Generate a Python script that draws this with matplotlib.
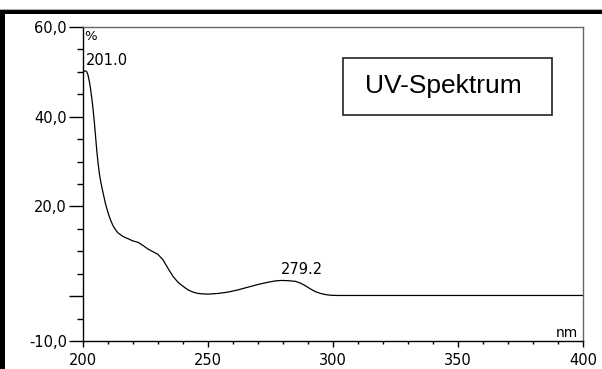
import numpy as np
import matplotlib
matplotlib.use("Agg")
import matplotlib.pyplot as plt
from matplotlib.ticker import MultipleLocator, FixedLocator, FixedFormatter
from matplotlib.patches import Rectangle

# ---- data ----
wavelength_nm = [200, 200.5, 201, 201.5, 202, 202.5, 203, 203.5, 204, 204.5,
                 205, 205.5, 206, 206.5, 207, 207.5, 208, 209, 210, 211,
                 212, 213, 214, 216, 218, 220, 222, 224, 226, 228,
                 230, 232, 234, 236, 238, 240, 242, 244, 246, 248,
                 250, 254, 258, 262, 266, 270, 274, 277, 279.2, 282,
                 285, 287, 289, 291, 293, 295, 297, 299, 302, 310,
                 330, 360, 400]
absorb_pct = [49.9, 50.2, 50.2, 50.0, 49.3, 48.0, 46.3, 44.2, 41.8, 39.0,
              35.8, 32.5, 29.8, 27.5, 25.8, 24.4, 23.1, 20.6, 18.6, 17.0,
              15.7, 14.8, 14.1, 13.3, 12.8, 12.3, 12.0, 11.3, 10.5, 9.9,
              9.3, 8.1, 6.2, 4.4, 3.1, 2.2, 1.4, 0.9, 0.6, 0.5,
              0.45, 0.6, 0.9, 1.4, 2.0, 2.6, 3.1, 3.4, 3.5, 3.45,
              3.3, 2.9, 2.3, 1.6, 1.0, 0.6, 0.35, 0.2, 0.15, 0.15,
              0.15, 0.15, 0.15]

peak_nm = [201.0, 279.2]
peak_label_y = [51.5, 4.9]

y_major = [-10, 0, 20, 40, 60]
y_major_labels = ["-10,0", "", "20,0", "40,0", "60,0"]
x_major = [200, 250, 300, 350, 400]
x_major_labels = ["200", "250", "300", "350", "400"]
title_text = "UV-Spektrum"
y_unit = "%"
x_unit = "nm"

# ---- figure ----
W, H = 602, 369
fig = plt.figure(figsize=(W / 100, H / 100), dpi=100)
fig.patch.set_facecolor("white")

# outer black frame (top and left)
fig.add_artist(Rectangle((0, 1 - 14 / H), 1, 5 / H, transform=fig.transFigure,
                         facecolor="black", edgecolor="none"))
fig.add_artist(Rectangle((0, 0), 5 / W, 1 - 9 / H, transform=fig.transFigure,
                         facecolor="black", edgecolor="none"))
fig.add_artist(plt.Line2D([0, 1], [1 - 8.5 / H, 1 - 8.5 / H], transform=fig.transFigure,
                          color="#b0b0b0", lw=0.8))

L, R, T, B = 83, 583, 27, 341
ax = fig.add_axes([L / W, (H - B) / H, (R - L) / W, (B - T) / H])
ax.plot(wavelength_nm, absorb_pct, color="black", lw=0.9)
ax.set_xlim(200, 400)
ax.set_ylim(-10, 60)

for s in ["top", "right"]:
    ax.spines[s].set_color("#666666")
    ax.spines[s].set_linewidth(1.0)
for s in ["left", "bottom"]:
    ax.spines[s].set_color("black")
    ax.spines[s].set_linewidth(1.0)

tick_font = dict(family="DejaVu Sans", size=10.5)
ax.yaxis.set_major_locator(FixedLocator(y_major))
ax.yaxis.set_major_formatter(FixedFormatter(y_major_labels))
ax.yaxis.set_minor_locator(MultipleLocator(5))
ax.xaxis.set_major_locator(FixedLocator(x_major))
ax.xaxis.set_major_formatter(FixedFormatter(x_major_labels))
ax.xaxis.set_minor_locator(MultipleLocator(10))

ax.tick_params(axis="y", which="major", direction="out", length=10, width=1.0,
               pad=1.5, labelsize=10.5, color="black")
ax.tick_params(axis="y", which="minor", direction="out", length=4.3, width=1.0, color="black")
ax.tick_params(axis="x", which="major", direction="out", length=4.3, width=1.0,
               pad=4, labelsize=10.5, color="black")
ax.tick_params(axis="x", which="minor", direction="out", length=2.5, width=1.0, color="black")
for lab in ax.get_xticklabels() + ax.get_yticklabels():
    lab.set_family("DejaVu Sans")

# unit labels
ax.text(0.003, 0.99, y_unit, transform=ax.transAxes, ha="left", va="top",
        fontsize=9.5, family="DejaVu Sans")
ax.text(0.99, 0.012, x_unit, transform=ax.transAxes, ha="right", va="baseline",
        fontsize=10, family="DejaVu Sans")

# peak labels
for px, py in zip(peak_nm, peak_label_y):
    ax.text(px, py, f"{px:.1f}", ha="left", va="baseline", fontsize=10.5,
            family="DejaVu Sans")

# title box
bx0 = (343 - L) / (R - L)
bx1 = (552 - L) / (R - L)
by0 = (B - 115) / (B - T)
by1 = (B - 58) / (B - T)
ax.add_patch(Rectangle((bx0, by0), bx1 - bx0, by1 - by0, transform=ax.transAxes,
                       facecolor="white", edgecolor="#222222", lw=1.2))
ax.text((443.5 - L) / (R - L), (B - 93) / (B - T), title_text, transform=ax.transAxes,
        ha="center", va="baseline", fontsize=19, family="Liberation Sans")

fig.savefig("out.png", dpi=100)
